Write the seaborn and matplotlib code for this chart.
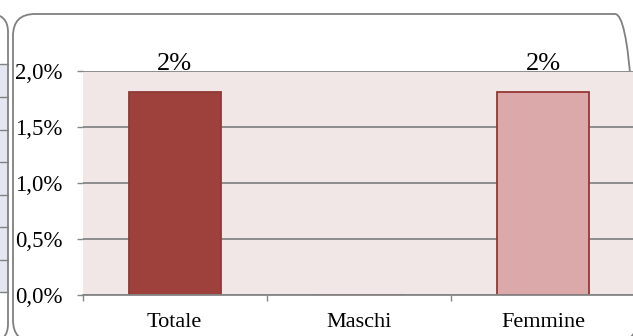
import matplotlib
matplotlib.use("Agg")
import matplotlib.pyplot as plt
import seaborn as sns
import pandas as pd
from matplotlib.patches import FancyBboxPatch, Rectangle
from matplotlib.ticker import FuncFormatter, FixedLocator

categories = ["Totale", "Maschi", "Femmine"]
values = [1.81, 0.0, 1.81]
bar_colors = ["#9e403c", "#dba9a9", "#dba9a9"]
edge_colors = ["#8f3a36", "#953735", "#953735"]
yticks = [0.0, 0.5, 1.0, 1.5, 2.0]

sns.set_theme(style="white")
plt.rcParams["font.family"] = ["Liberation Serif", "DejaVu Serif"]

W, H = 633, 336
fig = plt.figure(figsize=(W / 100, H / 100), dpi=100)

# decoration layer in pixel units (origin bottom-left)
bg = fig.add_axes([0, 0, 1, 1], zorder=0)
bg.set_xlim(0, W)
bg.set_ylim(0, H)
bg.axis("off")
gray = "#808080"
# left neighbouring panel (partially visible)
bg.add_patch(Rectangle((0, H - 292), 8, 228, facecolor="#e4e6f2", edgecolor="none"))
for yy in [64, 97, 130, 162, 195, 227, 260, 292]:
    bg.plot([0, 8], [H - yy, H - yy], color=gray, lw=1.0)
bg.add_patch(FancyBboxPatch((-120, -6), 128, H - 14 + 6, boxstyle="round,pad=0,rounding_size=18",
                            facecolor="none", edgecolor=gray, lw=1.3, clip_on=False))
bg.add_patch(FancyBboxPatch((13, -6), 624, H - 14 + 6, boxstyle="round,pad=0,rounding_size=22",
                            facecolor="none", edgecolor=gray, lw=1.3, clip_on=False))

ax = fig.add_axes([82.5 / W, 41 / H, (635.5 - 82.5) / W, 224 / H], zorder=1)
df = pd.DataFrame({"cat": categories, "val": values})
sns.barplot(data=df, x="cat", y="val", hue="cat", palette=bar_colors, legend=False,
            width=0.5, ax=ax, saturation=1)
for p, ec in zip(ax.patches, edge_colors):
    p.set_edgecolor(ec)
    p.set_linewidth(1.3)
    p.set_zorder(3)

ax.set_facecolor("#f2e7e7")
ax.set_ylim(0, 2.0)
ax.set_xlim(-0.5, 2.5)
ax.set_yticks(yticks)
ax.yaxis.set_major_formatter(FuncFormatter(lambda v, _: f"{v:.1f}%".replace(".", ",")))
ax.grid(axis="y", color="#868686", lw=1.3)
ax.set_axisbelow(True)
for s in ["top", "right", "left"]:
    ax.spines[s].set_visible(False)
ax.spines["bottom"].set_color("#868686")
ax.spines["bottom"].set_linewidth(1.3)
ax.spines["bottom"].set_zorder(4)
ax.tick_params(axis="y", length=4.3, width=1.0, color="#868686", pad=10, labelsize=16.5, left=True)
ax.tick_params(axis="x", which="major", length=0, pad=13, labelsize=16)
ax.xaxis.set_minor_locator(FixedLocator([-0.5, 0.5, 1.5, 2.5]))
ax.tick_params(axis="x", which="minor", length=4.5, width=1.0, color="#868686", bottom=True)
ax.set_xlabel("")
ax.set_ylabel("")
for lbl in ax.get_xticklabels() + ax.get_yticklabels():
    lbl.set_color("black")

for i, v in enumerate(values):
    if v > 0:
        ax.annotate(f"{round(v):d}%", xy=(i, 2.0), xytext=(0, 1.0), textcoords="offset points",
                    ha="center", va="baseline", fontsize=19, color="black", annotation_clip=False)

fig.savefig("out.png", dpi=100)
